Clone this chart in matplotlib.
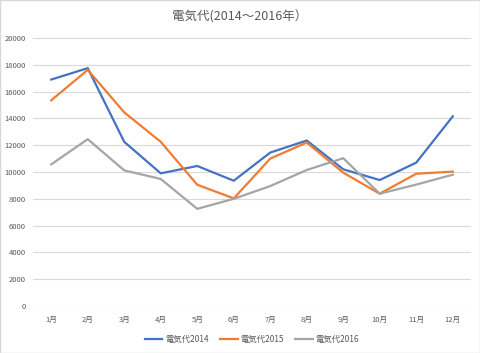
import matplotlib.pyplot as plt
import numpy as np
from matplotlib.patches import Rectangle

plt.rcParams['font.family'] = ['Noto Sans CJK JP', 'DejaVu Sans']

# Data
months = ["1月", "2月", "3月", "4月", "5月", "6月", "7月", "8月", "9月", "10月", "11月", "12月"]
y2014 = [16900, 17750, 12250, 9900, 10450, 9350, 11450, 12350, 10200, 9400, 10700, 14150]
y2015 = [15350, 17620, 14450, 12250, 9050, 8030, 11000, 12200, 9950, 8380, 9870, 10030]
y2016 = [10570, 12450, 10120, 9480, 7250, 8000, 8950, 10150, 11030, 8380, 9060, 9800]

series = [
    ("電気代2014", y2014, "#4472C4"),
    ("電気代2015", y2015, "#ED7D31"),
    ("電気代2016", y2016, "#A5A5A5"),
]

fig = plt.figure(figsize=(4.8, 3.53), dpi=100)
ax = fig.add_axes([33 / 480, 1 - 306 / 353, 438 / 480, 268 / 353])

x = np.arange(1, len(months) + 1)
for name, vals, color in series:
    ax.plot(x, vals, color=color, linewidth=1.6, label=name, solid_joinstyle="round")

ax.set_xlim(0.5, 12.5)
ax.set_ylim(0, 20000)
ax.set_yticks(np.arange(0, 20001, 2000))
ax.set_xticks(x)
ax.set_xticklabels(months)
ax.grid(axis="y", color="#D9D9D9", linewidth=0.8)
ax.set_axisbelow(True)
for s in ax.spines.values():
    s.set_visible(False)
ax.tick_params(length=0, labelsize=5.5, labelcolor="#595959")
ax.tick_params(axis="x", pad=7)
ax.tick_params(axis="y", pad=5)

fig.text(0.5, 1 - 17 / 353, "電気代(2014～2016年）", ha="center", va="center",
         fontsize=9, color="#595959")

ax.legend(loc="center", bbox_to_anchor=(0.5, -0.125), ncol=3, frameon=False,
          fontsize=6, labelcolor="#595959", handlelength=2.1, columnspacing=1.4,
          handletextpad=0.3)

fig.patches.append(Rectangle((0, 0), 1, 1, transform=fig.transFigure, fill=False,
                             edgecolor="#D9D9D9", linewidth=1))

fig.savefig("out.png", dpi=100)
